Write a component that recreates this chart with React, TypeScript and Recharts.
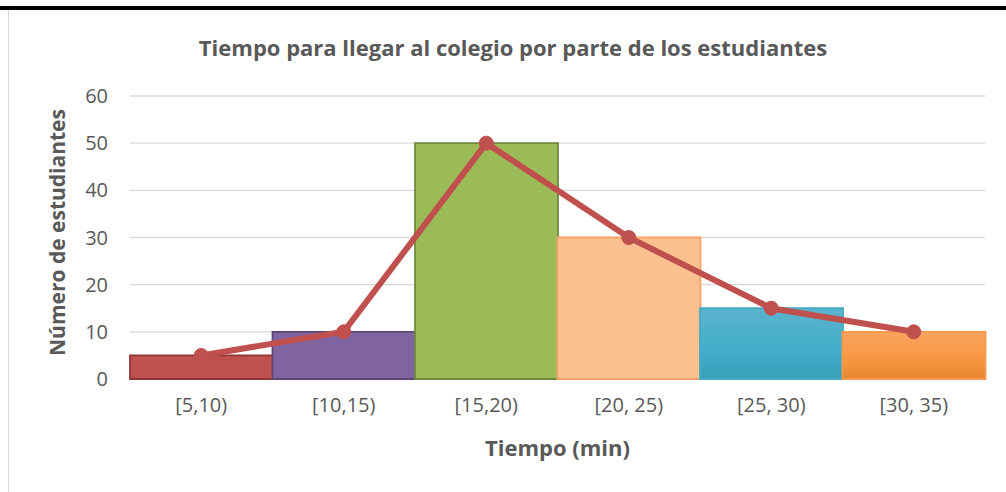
import React from 'react';
import { Bar, CartesianGrid, Cell, ComposedChart, Label, Line, XAxis, YAxis } from 'recharts';

const categories = ['[5,10)', '[10,15)', '[15,20)', '[20, 25)', '[25, 30)', '[30, 35)'];
const students = [5, 10, 50, 30, 15, 10];
const yTicks = [0, 10, 20, 30, 40, 50, 60];

const barFills = ['#C0504D', '#8064A2', '#9BBB59', '#FAC090', 'url(#gBlue)', 'url(#gOrange)'];
const barStrokes = ['#8C3836', '#5C4776', '#71893F', '#F7A36A', '#46AAC4', '#F79A50'];

const data = categories.map((name, i) => ({ name, value: students[i] }));

const font = '"Open Sans", "Noto Sans", sans-serif';
const gray = '#595959';

export default function App() {
  return (
    <div style={{ position: 'absolute', left: 0, top: 0, width: 1006, height: 492, background: '#fff', fontFamily: font }}>
      <div style={{ position: 'absolute', left: 0, top: 6, width: 1006, height: 4, background: '#000' }} />
      <div style={{ position: 'absolute', left: 8, top: 10, width: 1, height: 482, background: '#D9D9D9' }} />
      <div
        style={{
          position: 'absolute',
          left: 0,
          width: 1006,
          top: 32,
          lineHeight: '30px',
          textAlign: 'center',
          paddingLeft: 20,
          boxSizing: 'border-box',
          fontSize: 22,
          fontWeight: 700,
          color: gray,
        }}
      >
        Tiempo para llegar al colegio por parte de los estudiantes
      </div>
      <ComposedChart
        width={1006}
        height={492}
        data={data}
        margin={{ top: 96, right: 21, bottom: 20, left: 70 }}
        barCategoryGap={0}
        style={{ position: 'absolute', left: 0, top: 0 }}
      >
        <defs>
          <linearGradient id="gBlue" x1="0" y1="0" x2="0" y2="1">
            <stop offset="0%" stopColor="#5BB4CD" />
            <stop offset="60%" stopColor="#42AECB" />
            <stop offset="100%" stopColor="#379FBA" />
          </linearGradient>
          <linearGradient id="gOrange" x1="0" y1="0" x2="0" y2="1">
            <stop offset="0%" stopColor="#FBA35F" />
            <stop offset="60%" stopColor="#F99640" />
            <stop offset="100%" stopColor="#E8872F" />
          </linearGradient>
        </defs>
        <CartesianGrid vertical={false} stroke="#D9D9D9" strokeWidth={1.3} />
        <XAxis
          dataKey="name"
          axisLine={false}
          tickLine={false}
          height={93}
          tickMargin={13}
          tick={{ fill: gray, fontSize: 20, fontFamily: font }}
        >
          <Label
            value="Tiempo (min)"
            position="insideBottom"
            offset={16}
            style={{ fill: gray, fontSize: 22, fontWeight: 700, fontFamily: font }}
          />
        </XAxis>
        <YAxis
          domain={[0, 60]}
          ticks={yTicks}
          axisLine={false}
          tickLine={false}
          width={60}
          tickMargin={16}
          tick={{ fill: gray, fontSize: 20, fontFamily: font }}
        >
          <Label
            value="Número de estudiantes"
            angle={-90}
            position="left"
            offset={12}
            dy={-5}
            style={{ fill: gray, fontSize: 21, fontWeight: 700, fontFamily: font, textAnchor: 'middle' }}
          />
        </YAxis>
        <Bar dataKey="value" isAnimationActive={false} strokeWidth={1.8}>
          {data.map((d, i) => (
            <Cell key={d.name} fill={barFills[i]} stroke={barStrokes[i]} />
          ))}
        </Bar>
        <Line
          dataKey="value"
          stroke="#C0504D"
          strokeWidth={6}
          type="linear"
          dot={{ r: 7, fill: '#C0504D', stroke: '#C0504D', strokeWidth: 1 }}
          isAnimationActive={false}
        />
      </ComposedChart>
    </div>
  );
}
